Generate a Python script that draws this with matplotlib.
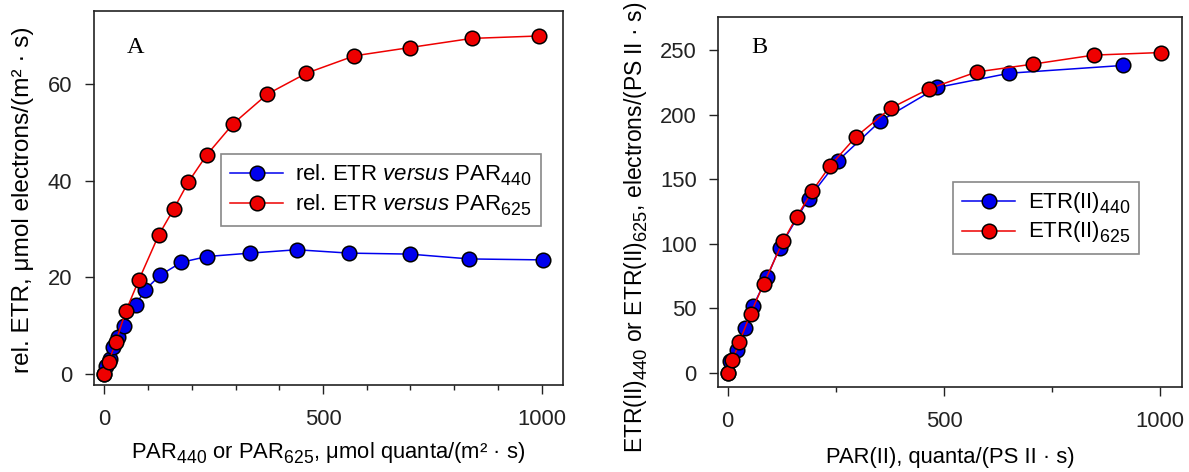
import matplotlib
matplotlib.use("Agg")
import matplotlib.pyplot as plt
from matplotlib.ticker import MultipleLocator
try:
    import matplotlib._mathtext as _mt
    _mt.SHRINK_FACTOR = 0.8
    _mt.FontConstantsBase.sub1 = 0.42
    _mt.FontConstantsBase.sub2 = 0.6
except Exception:
    pass

plt.rcParams['font.family'] = ['Liberation Sans', 'DejaVu Sans']
plt.rcParams['mathtext.fontset'] = 'custom'
plt.rcParams['mathtext.rm'] = 'Liberation Sans'
plt.rcParams['mathtext.it'] = 'Liberation Sans:italic'
plt.rcParams['mathtext.default'] = 'regular'

# Panel A data
a_par440 = [0, 4, 12, 20, 31, 45, 72, 92, 127, 176, 235, 333, 440, 560, 698, 835, 1003]
a_etr440 = [0, 1.6, 3.2, 5.5, 7.7, 10.0, 14.3, 17.3, 20.4, 23.1, 24.3, 25.0, 25.7, 25.0, 24.8, 23.8, 23.6]
a_par625 = [0, 10, 26, 49, 79, 124, 159, 192, 234, 295, 373, 462, 572, 698, 840, 993]
a_etr625 = [0, 2.5, 6.7, 13.0, 19.5, 28.7, 34.2, 39.7, 45.3, 51.8, 57.9, 62.2, 65.8, 67.5, 69.4, 69.9]

# Panel B data
b_par440 = [0, 6, 21, 40, 59, 91, 120, 187, 254, 353, 485, 651, 913]
b_etr440 = [0, 9, 18, 35, 52, 74, 97, 135, 164, 195, 221, 232, 238]
b_par625 = [0, 11, 27, 53, 83, 128, 160, 195, 236, 297, 377, 466, 576, 705, 846, 1001]
b_etr625 = [0, 9.8, 24, 46, 69, 102, 121, 140.6, 160, 183, 205, 220, 233, 239, 246, 248]

BLUE = '#0000ee'
RED = '#ee0000'
mk = dict(marker='o', markersize=10.5, markeredgecolor='black', markeredgewidth=1.1, linewidth=1.1)
TICK_FS = 15.8
XL_FS = 15.8
LEG_FS = 16

fig = plt.figure(figsize=(11.89, 4.72), dpi=100)
axA = fig.add_axes([0.079, 0.184, 0.3945, 0.792])
axB = fig.add_axes([0.604, 0.180, 0.390, 0.784])

def style(ax):
    for s in ax.spines.values():
        s.set_linewidth(1.2)
        s.set_color('#222222')
    ax.tick_params(which='major', direction='out', length=6.5, width=1.0, labelsize=TICK_FS, colors='#222222')
    ax.tick_params(axis='x', which='minor', direction='out', length=3.5, width=1.0, colors='#222222')
    ax.tick_params(axis='x', which='major', pad=11)
    ax.tick_params(axis='y', which='major', pad=9)

axA.plot(a_par440, a_etr440, color=BLUE, markerfacecolor=BLUE, label=r'rel. ETR $\mathit{versus}$ PAR$_{440}$', **mk)
axA.plot(a_par625, a_etr625, color=RED, markerfacecolor=RED, label=r'rel. ETR $\mathit{versus}$ PAR$_{625}$', **mk)
axA.set_xlim(-24, 1049)
axA.set_ylim(-2.3, 75)
axA.xaxis.set_major_locator(MultipleLocator(500))
axA.xaxis.set_minor_locator(MultipleLocator(100))
axA.yaxis.set_major_locator(MultipleLocator(20))
style(axA)
axA.set_xlabel(r'PAR$_{440}$ or PAR$_{625}$, μmol quanta/(m² · s)', fontsize=XL_FS)
axA.xaxis.set_label_coords(0.5, -0.15)
axA.set_ylabel('rel. ETR, μmol electrons/(m² · s)', fontsize=17.6)
axA.yaxis.set_label_coords(-0.128, 0.497)
axA.text(0.07, 0.888, 'A', transform=axA.transAxes, family='Liberation Serif', fontsize=17.5)
legA = axA.legend(loc='upper left', bbox_to_anchor=(0.271, 0.618), borderaxespad=0, fontsize=LEG_FS,
                  frameon=True, fancybox=False, edgecolor='#888888', framealpha=1, handlelength=2.4,
                  handletextpad=0.55, borderpad=0.4, labelspacing=0.2)
legA.get_frame().set_linewidth(1.2)

axB.plot(b_par440, b_etr440, color=BLUE, markerfacecolor=BLUE, label=r'ETR(II)$_{440}$', **mk)
axB.plot(b_par625, b_etr625, color=RED, markerfacecolor=RED, label=r'ETR(II)$_{625}$', **mk)
axB.set_xlim(-22, 1050)
axB.set_ylim(-10.8, 275.5)
axB.xaxis.set_major_locator(MultipleLocator(500))
axB.xaxis.set_minor_locator(MultipleLocator(250))
axB.yaxis.set_major_locator(MultipleLocator(50))
style(axB)
axB.set_xlabel('PAR(II), quanta/(PS II · s)', fontsize=XL_FS)
axB.xaxis.set_label_coords(0.5, -0.162)
axB.set_ylabel(r'ETR(II)$_{440}$ or ETR(II)$_{625}$, electrons/(PS II · s)', fontsize=16.5)
axB.yaxis.set_label_coords(-0.146, 0.432)
axB.text(0.072, 0.903, 'B', transform=axB.transAxes, family='Liberation Serif', fontsize=17.5)
legB = axB.legend(loc='upper left', bbox_to_anchor=(0.507, 0.554), borderaxespad=0, fontsize=LEG_FS,
                  frameon=True, fancybox=False, edgecolor='#888888', framealpha=1, handlelength=2.4,
                  handletextpad=0.55, borderpad=0.4, labelspacing=0.2)
legB.get_frame().set_linewidth(1.2)

fig.savefig('out.png', dpi=100)
